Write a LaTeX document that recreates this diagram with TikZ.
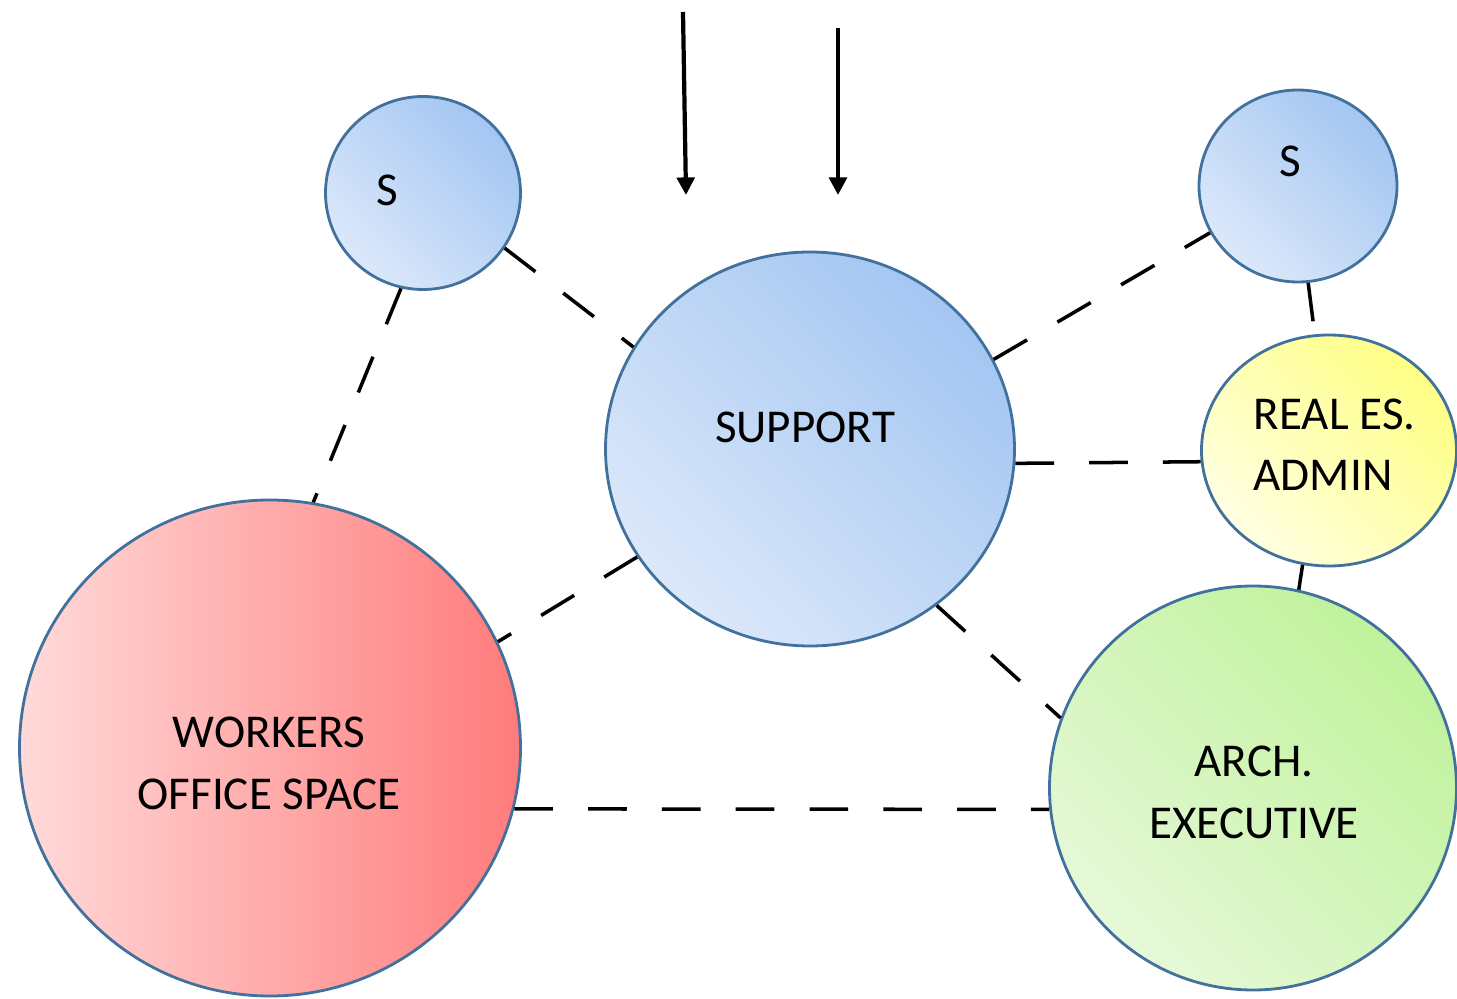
\documentclass[tikz,border=0pt]{standalone}
\usepackage{fontspec}
\setmainfont{Carlito}
\usetikzlibrary{shapes.geometric,arrows.meta}

\definecolor{rim}{HTML}{41719C}
\definecolor{bluedark}{HTML}{A3C6F2}
\definecolor{bluelight}{HTML}{DCE8FA}
\definecolor{redlight}{HTML}{FFDADA}
\definecolor{reddark}{HTML}{FF7B7B}
\definecolor{yeldark}{HTML}{FFFF85}
\definecolor{yellight}{HTML}{FFFFE2}
\definecolor{grndark}{HTML}{C0F29C}
\definecolor{grnlight}{HTML}{E6F8D8}

\begin{document}
\begin{tikzpicture}[
  bubble/.style={ellipse,draw=rim,line width=0.8pt,inner sep=0pt},
  bluefill/.style={top color=bluedark,bottom color=bluelight,shading angle=-45},
  link/.style={line width=1pt,dash pattern=on 11pt off 10pt},
  lbl/.style={font=\fontsize{13.4}{17.6}\selectfont,inner sep=0pt}]
  \useasboundingbox (0,0) rectangle (14.57,9.98);
  \node[bubble,bluefill,minimum width=1.95cm,minimum height=1.93cm] (sl) at (4.23,8.05) {};
  \node[bubble,bluefill,minimum width=1.98cm,minimum height=1.92cm] (sr) at (12.98,8.12) {};
  \node[bubble,bluefill,minimum width=4.09cm,minimum height=3.94cm] (sup) at (8.10,5.49) {};
  \node[bubble,top color=yeldark,bottom color=yellight,shading angle=-45,
    minimum width=2.55cm,minimum height=2.31cm] (rea) at (13.29,5.475) {};
  \node[bubble,left color=redlight,right color=reddark,
    minimum width=5.01cm,minimum height=4.96cm] (wrk) at (2.70,2.50) {};
  \node[bubble,top color=grndark,bottom color=grnlight,shading angle=-45,
    minimum width=4.07cm,minimum height=4.04cm] (arc) at (12.53,2.10) {};

  \node[lbl,anchor=base] (sltxt) at (3.87,7.92) {S};
  \node[lbl,anchor=base] (srtxt) at (12.90,8.21) {S};
  \node[lbl,anchor=base] (suptxt) at (8.05,5.56) {SUPPORT};
  \node[lbl,anchor=base west,align=left] (reatxt) at (12.53,5.07) {REAL ES.\\ADMIN};
  \node[lbl,anchor=base,align=center] (wrktxt) at (2.69,1.89) {WORKERS\\OFFICE SPACE};
  \node[lbl,anchor=base,align=center] (arctxt) at (12.54,1.60) {ARCH.\\EXECUTIVE};

  \foreach \a/\b in {sl.-34/sup.150,sl.-103/wrk.80,sup.212/wrk.25,sup.26/sr.208,
    sup.-4/rea.185,sup.-51/arc.160,sr.-84/rea.97,rea.-103/arc.77,wrk.-14/arc.186}{
  \draw[link] (\a) -- (\b);
  }

  \coordinate (in1) at (6.83,9.86);
  \coordinate (in2) at (8.38,9.70);
  \coordinate (out1) at (6.86,8.03);
  \coordinate (out2) at (8.38,8.03);
  \draw[->,>={Triangle[length=5pt,width=5pt]},line width=1.2pt] (in1) -- (out1);
  \draw[->,>={Triangle[length=5pt,width=5pt]},line width=1.2pt] (in2) -- (out2);
\end{tikzpicture}
\end{document}
